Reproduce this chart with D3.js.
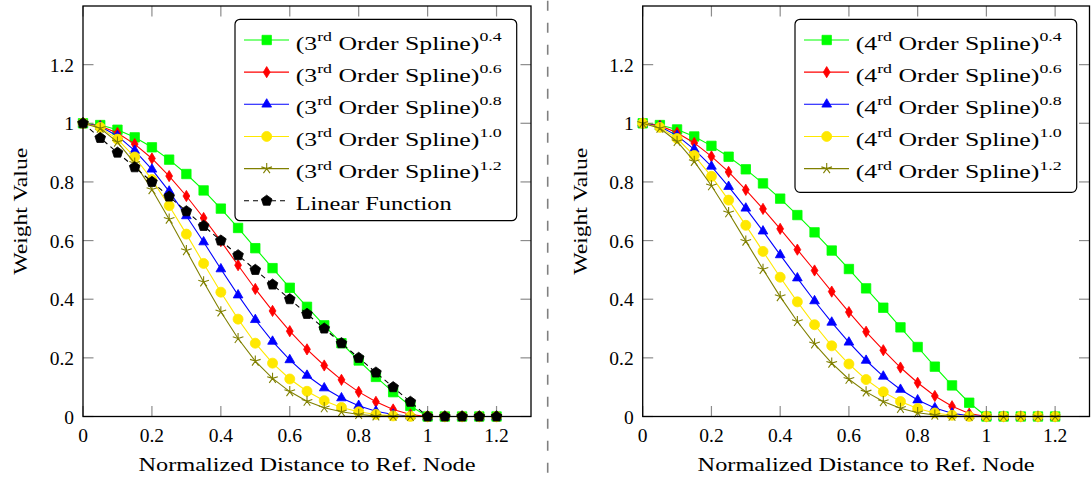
<!DOCTYPE html>
<html>
<head>
<meta charset="utf-8">
<script src="https://cdn.jsdelivr.net/npm/d3@7"></script>
<style>
  html, body { margin: 0; padding: 0; background: #fff; }
  svg { display: block; }
  svg text { fill: #000; white-space: pre; }
</style>
</head>
<body>
<svg id="chart" width="1091" height="477"></svg>
<script>
// ---------------- data ----------------
const xValues = [0,0.05,0.1,0.15,0.2,0.25,0.3,0.35,0.4,0.45,0.5,0.55,0.6,0.65,0.7,0.75,0.8,0.85,0.9,0.95,1,1.05,1.1,1.15,1.2];

const cubicP04 = [1,0.994,0.978,0.952,0.918,0.876,0.827,0.771,0.709,0.643,0.574,0.506,0.439,0.374,0.311,0.250,0.191,0.135,0.083,0.036,0,0,0,0,0];
const cubicP06 = [1,0.991,0.967,0.929,0.880,0.820,0.752,0.677,0.598,0.516,0.435,0.360,0.291,0.229,0.174,0.125,0.084,0.050,0.024,0.007,0,0,0,0,0];
const cubicP08 = [1,0.989,0.957,0.907,0.843,0.768,0.684,0.595,0.503,0.414,0.330,0.256,0.193,0.140,0.097,0.063,0.037,0.018,0.007,0.001,0,0,0,0,0];
const cubicP10 = [1,0.986,0.946,0.885,0.808,0.719,0.622,0.522,0.424,0.332,0.250,0.182,0.128,0.086,0.054,0.031,0.016,0.007,0.002,0.000,0,0,0,0,0];
const cubicP12 = [1,0.983,0.936,0.864,0.774,0.673,0.566,0.459,0.357,0.266,0.189,0.130,0.085,0.052,0.030,0.016,0.007,0.002,0.001,0.000,0,0,0,0,0];
const linearFn = [1,0.95,0.9,0.85,0.8,0.75,0.7,0.65,0.6,0.55,0.5,0.45,0.4,0.35,0.3,0.25,0.2,0.15,0.1,0.05,0,0,0,0,0];

const quarticP04 = [1,0.994,0.979,0.955,0.923,0.886,0.843,0.795,0.743,0.687,0.628,0.566,0.503,0.437,0.371,0.304,0.237,0.170,0.106,0.047,0,0,0,0,0];
const quarticP06 = [1,0.992,0.968,0.933,0.887,0.834,0.773,0.708,0.640,0.569,0.498,0.426,0.356,0.289,0.226,0.167,0.115,0.070,0.035,0.010,0,0,0,0,0];
const quarticP08 = [1,0.989,0.958,0.911,0.853,0.784,0.710,0.632,0.551,0.472,0.394,0.321,0.253,0.191,0.137,0.092,0.056,0.029,0.011,0.002,0,0,0,0,0];
const quarticP10 = [1,0.986,0.948,0.890,0.819,0.738,0.652,0.563,0.475,0.391,0.313,0.241,0.179,0.126,0.084,0.051,0.027,0.012,0.004,0.000,0,0,0,0,0];
const quarticP12 = [1,0.983,0.938,0.870,0.787,0.695,0.598,0.502,0.409,0.324,0.248,0.182,0.127,0.084,0.051,0.028,0.013,0.005,0.001,0.000,0,0,0,0,0];

const exponents = ["0.4","0.6","0.8","1.0","1.2"];
const xTicks = [0,0.2,0.4,0.6,0.8,1,1.2];
const xTickLabels = ["0","0.2","0.4","0.6","0.8","1","1.2"];
const yTicks = [0,0.2,0.4,0.6,0.8,1,1.2];
const yTickLabels = ["0","0.2","0.4","0.6","0.8","1","1.2"];
const xTitle = "Normalized Distance to Ref. Node";
const yTitle = "Weight Value";

// ---------------- styles ----------------
const FONT = "Liberation Serif, Times New Roman, Times, Tinos, DejaVu Serif, Noto Serif, FreeSerif, Nimbus Roman, Georgia, serif";
const FS = 19.5;
const seriesStyles = [
  { color: "#00ff00", mark: "square" },
  { color: "#ff0000", mark: "diamond" },
  { color: "#0000ff", mark: "triangle" },
  { color: "#ffe800", mark: "circle" },
  { color: "#808000", mark: "star" }
];
const linearStyle = { color: "#000000", mark: "pentagon", dash: "5,4" };

function markPath(type) {
  const p = d3.path();
  if (type === "square") {
    p.rect(-4.7, -4.7, 9.4, 9.4);
  } else if (type === "diamond") {
    p.moveTo(0, -5.6); p.lineTo(3.4, 0); p.lineTo(0, 5.6); p.lineTo(-3.4, 0); p.closePath();
  } else if (type === "triangle") {
    const r = 5.6;
    p.moveTo(0, -r); p.lineTo(r * 0.866, r * 0.5); p.lineTo(-r * 0.866, r * 0.5); p.closePath();
  } else if (type === "circle") {
    p.arc(0, 0, 5, 0, 2 * Math.PI); p.closePath();
  } else if (type === "pentagon") {
    const r = 5.6;
    for (let k = 0; k < 5; k++) {
      const a = -Math.PI / 2 + k * 2 * Math.PI / 5;
      if (k === 0) p.moveTo(r * Math.cos(a), r * Math.sin(a)); else p.lineTo(r * Math.cos(a), r * Math.sin(a));
    }
    p.closePath();
  } else if (type === "star") {
    const r = 5.6;
    for (let k = 0; k < 5; k++) {
      const a = -Math.PI / 2 + k * 2 * Math.PI / 5;
      p.moveTo(0, 0); p.lineTo(r * Math.cos(a), r * Math.sin(a));
    }
  }
  return p.toString();
}

function drawMarks(g, pts, style) {
  const isStar = style.mark === "star";
  g.selectAll(null).data(pts).enter().append("path")
    .attr("d", markPath(style.mark))
    .attr("transform", d => `translate(${d[0]},${d[1]})`)
    .attr("fill", isStar ? "none" : style.color)
    .attr("stroke", style.color)
    .attr("stroke-width", isStar ? 1.1 : 0.8);
}

const svg = d3.select("#chart");

function addText(g) {
  return g.append("text").style("font-family", FONT).attr("font-size", FS);
}

function superText(g, x, y, base, sup1, mid, sup2, totalLen) {
  const t = addText(g).attr("x", x).attr("y", y);
  t.append("tspan").text(base);
  t.append("tspan").attr("font-size", 13.5).attr("dy", -8.5).text(sup1);
  t.append("tspan").attr("dy", 8.5).text(mid);
  t.append("tspan").attr("font-size", 13.5).attr("dy", -8.5).text(sup2);
  if (totalLen) t.attr("textLength", totalLen).attr("lengthAdjust", "spacingAndGlyphs");
  return t;
}

function drawPanel(cfg) {
  const x = d3.scaleLinear().domain([0, 1.3]).range([cfg.left, cfg.right]);
  const y = d3.scaleLinear().domain([0, 1.4]).range([416.5, 6]);
  const g = svg.append("g");

  // ticks (gray, inside, mirrored)
  const tickLen = 10.5;
  const tg = g.append("g").attr("stroke", "#8c8c8c").attr("stroke-width", 1.2);
  xTicks.forEach(v => {
    tg.append("line").attr("x1", x(v)).attr("x2", x(v)).attr("y1", y(0)).attr("y2", y(0) - tickLen);
    tg.append("line").attr("x1", x(v)).attr("x2", x(v)).attr("y1", y(1.4)).attr("y2", y(1.4) + tickLen);
  });
  yTicks.forEach(v => {
    tg.append("line").attr("x1", x(0)).attr("x2", x(0) + tickLen).attr("y1", y(v)).attr("y2", y(v));
    tg.append("line").attr("x1", x(1.3)).attr("x2", x(1.3) - tickLen).attr("y1", y(v)).attr("y2", y(v));
  });

  // tick labels
  xTicks.forEach((v, i) => {
    addText(g).attr("x", x(v)).attr("y", 442).attr("text-anchor", "middle").text(xTickLabels[i]);
  });
  yTicks.forEach((v, i) => {
    addText(g).attr("x", x(0) - 9).attr("y", y(v) + 7).attr("text-anchor", "end").text(yTickLabels[i]);
  });

  // axis titles
  addText(g).attr("x", (cfg.left + cfg.right) / 2).attr("y", 471).attr("text-anchor", "middle")
    .attr("textLength", 337).attr("lengthAdjust", "spacingAndGlyphs").text(xTitle);
  addText(g).attr("transform", `translate(${cfg.left - 56},${(y(0) + y(1.4)) / 2}) rotate(-90)`)
    .attr("text-anchor", "middle")
    .attr("textLength", 127).attr("lengthAdjust", "spacingAndGlyphs").text(yTitle);

  // series
  const line = d3.line().x(d => x(d[0])).y(d => y(d[1]));
  cfg.series.forEach(s => {
    const pts = xValues.map((xv, i) => [xv, s.values[i]]);
    const sg = g.append("g");
    sg.append("path").attr("d", line(pts)).attr("fill", "none").attr("stroke", s.style.color)
      .attr("stroke-width", 1.1).attr("stroke-dasharray", s.style.dash || null);
    drawMarks(sg, pts.map(p => [x(p[0]), y(p[1])]), s.style);
  });

  // axis box
  g.append("rect").attr("x", x(0)).attr("y", y(1.4)).attr("width", x(1.3) - x(0)).attr("height", y(0) - y(1.4))
    .attr("fill", "none").attr("stroke", "#000").attr("stroke-width", 1.3);

  // legend
  const lg = g.append("g");
  const lx = cfg.legendX, lw = 281.7, ly = 19.3;
  const lh = cfg.legendH;
  lg.append("rect").attr("x", lx).attr("y", ly).attr("width", lw).attr("height", lh).attr("rx", 5).attr("ry", 5)
    .attr("fill", "#fff").attr("stroke", "#000").attr("stroke-width", 1.2);
  cfg.series.forEach((s, i) => {
    const cy = 40 + i * 32.15;
    lg.append("line").attr("x1", lx + 9).attr("x2", lx + 54).attr("y1", cy).attr("y2", cy)
      .attr("stroke", s.style.color).attr("stroke-width", 1.1).attr("stroke-dasharray", s.style.dash || null);
    drawMarks(lg, [[lx + 31.7, cy]], s.style);
    if (s.plain) {
      addText(lg).attr("x", lx + 60.7).attr("y", cy + 9.5)
        .attr("textLength", 156).attr("lengthAdjust", "spacingAndGlyphs").text(s.plain);
    } else {
      superText(lg, lx + 60.7, cy + 9.5, "(" + cfg.order, "rd", " Order Spline)", s.exp, 206);
    }
  });
}

const cubicSeries = [cubicP04, cubicP06, cubicP08, cubicP10, cubicP12].map((v, i) => ({ values: v, style: seriesStyles[i], exp: exponents[i] }));
cubicSeries.push({ values: linearFn, style: linearStyle, plain: "Linear Function" });
const quarticSeries = [quarticP04, quarticP06, quarticP08, quarticP10, quarticP12].map((v, i) => ({ values: v, style: seriesStyles[i], exp: exponents[i] }));

drawPanel({ left: 83, right: 531, series: cubicSeries, order: "3", legendX: 235, legendH: 201.4 });
drawPanel({ left: 642.7, right: 1089.5, series: quarticSeries, order: "4", legendX: 795, legendH: 173 });

// separator
svg.append("line").attr("x1", 547.7).attr("x2", 547.7).attr("y1", 0.7).attr("y2", 477)
  .attr("stroke", "#808080").attr("stroke-width", 1.6).attr("stroke-dasharray", "10,12");
</script>
</body>
</html>
